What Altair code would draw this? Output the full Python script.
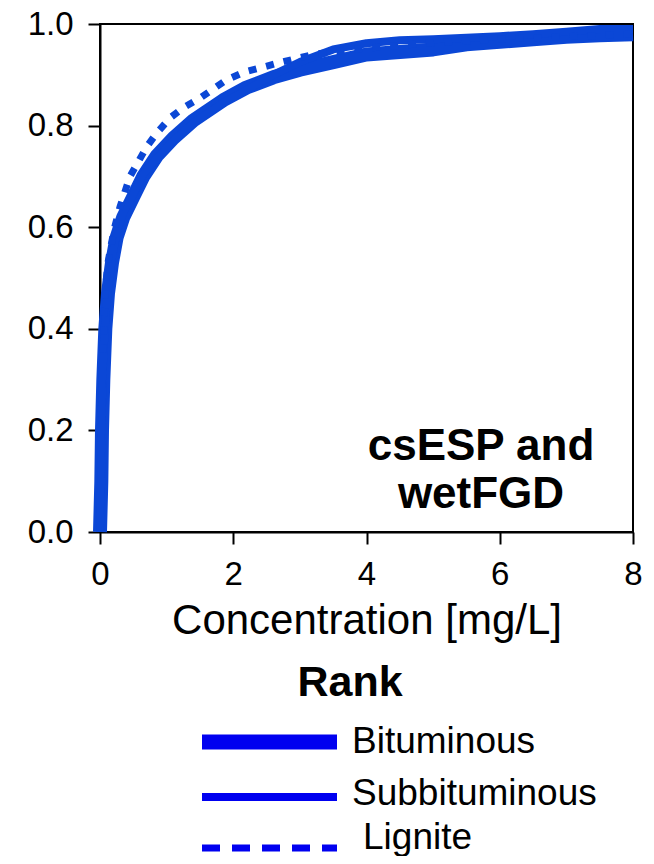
import altair as alt
import pandas as pd

# ---- data ----
series_names = ["Bituminous", "Subbituminous", "Lignite"]

bit_x = [0.0, 0.02, 0.03, 0.05, 0.08, 0.12, 0.18, 0.25, 0.35, 0.5, 0.65, 0.85, 1.1, 1.4, 1.85, 2.2, 2.6, 3.0, 3.5, 4.0, 4.5, 5.0, 5.5, 6.0, 6.5, 7.0, 7.5, 8.0]
bit_y = [0.0, 0.1, 0.2, 0.3, 0.4, 0.47, 0.53, 0.58, 0.62, 0.66, 0.7, 0.74, 0.775, 0.81, 0.85, 0.875, 0.895, 0.91, 0.925, 0.94, 0.945, 0.95, 0.96, 0.965, 0.97, 0.975, 0.978, 0.98]

sub_x = [0.0, 0.02, 0.03, 0.05, 0.08, 0.12, 0.18, 0.25, 0.35, 0.5, 0.65, 0.85, 1.1, 1.4, 1.85, 2.2, 2.6, 3.0, 3.5, 4.0, 4.5, 5.0, 5.5, 6.0, 6.5, 7.0, 7.5, 8.0]
sub_y = [0.0, 0.12, 0.25, 0.35, 0.42, 0.48, 0.54, 0.59, 0.63, 0.665, 0.705, 0.735, 0.77, 0.805, 0.845, 0.87, 0.9, 0.925, 0.95, 0.962, 0.968, 0.97, 0.973, 0.976, 0.98, 0.985, 0.99, 0.99]

lig_x = [0.0, 0.03, 0.06, 0.09, 0.12, 0.16, 0.22, 0.3, 0.45, 0.7, 0.85, 1.05, 1.25, 1.5, 1.9, 2.18, 2.73, 3.2, 3.8, 4.5, 5.2, 6.0, 7.0, 8.0]
lig_y = [0.0, 0.28, 0.42, 0.49, 0.53, 0.56, 0.6, 0.64, 0.7, 0.758, 0.785, 0.815, 0.835, 0.854, 0.89, 0.906, 0.925, 0.94, 0.95, 0.958, 0.965, 0.97, 0.975, 0.98]

x_ticks = [0, 2, 4, 6, 8]
y_ticks = [0.0, 0.2, 0.4, 0.6, 0.8, 1.0]

annotation = "csESP and\nwetFGD"
x_title = "Concentration [mg/L]"
legend_title = "Rank"

FONT = "Liberation Sans"
LINE_BLUE = "#0b47d6"
LEG_BLUE = "#0000f0"

W, H = 533, 508

df_b = pd.DataFrame({"x": bit_x, "y": bit_y, "s": series_names[0]})
df_s = pd.DataFrame({"x": sub_x, "y": sub_y, "s": series_names[1]})
df_l = pd.DataFrame({"x": lig_x, "y": lig_y, "s": series_names[2]})

xs = alt.Scale(domain=[0, 8], nice=False, zero=False)
ys = alt.Scale(domain=[0, 1], nice=False, zero=False)

x_enc = alt.X("x:Q", scale=xs, axis=alt.Axis(
    values=x_ticks, title=x_title, format="d", grid=False, labelFlush=False,
    titleY=101, titleBaseline="alphabetic", titleFontSize=42, titleFontWeight="normal",
))
y_enc = alt.Y("y:Q", scale=ys, axis=alt.Axis(values=y_ticks, format=".1f", title=None,
                                             grid=False, labelFlush=False))

l_b = alt.Chart(df_b).mark_line(color=LINE_BLUE, strokeWidth=14, strokeJoin="round").encode(
    x=x_enc, y=y_enc, order="x:Q")
l_s = alt.Chart(df_s).mark_line(color=LINE_BLUE, strokeWidth=8, strokeJoin="round").encode(
    x="x:Q", y="y:Q", order="x:Q")
l_l = alt.Chart(df_l).mark_line(color=LINE_BLUE, strokeWidth=7, strokeDash=[8, 10], strokeCap="butt").encode(
    x="x:Q", y="y:Q", order="x:Q")

ann = alt.Chart(pd.DataFrame({"t": [annotation]})).mark_text(
    font=FONT, fontSize=44, fontWeight="bold", align="center", baseline="alphabetic",
    lineBreak="\n", lineHeight=48, color="black",
).encode(x=alt.value(381), y=alt.value(436), text="t:N")

# legend (drawn below the plot)
leg_title = alt.Chart(pd.DataFrame({"t": [legend_title]})).mark_text(
    font=FONT, fontSize=43, fontWeight="bold", align="center", baseline="alphabetic", color="black"
).encode(x=alt.value(250), y=alt.value(672), text="t:N")

leg_items = []
rule_y = [718, 773, 824]
text_y = [729, 781, 825]
text_x = [252, 252, 263]
widths = [15, 8, 7]
for i, nm in enumerate(series_names):
    d = pd.DataFrame({"name": [nm]})
    kw = dict(color=LEG_BLUE, strokeWidth=widths[i], strokeCap="butt")
    if i == 2:
        kw["strokeDash"] = [18, 12]
    leg_items.append(alt.Chart(d).mark_rule(**kw).encode(
        x=alt.value(102), x2=alt.value(237), y=alt.value(rule_y[i])))
    leg_items.append(alt.Chart(d).mark_text(
        font=FONT, fontSize=37, align="left", baseline="alphabetic", color="black"
    ).encode(x=alt.value(text_x[i]), y=alt.value(text_y[i]), text="name:N"))

chart = alt.layer(l_b, l_s, l_l, ann, leg_title, *leg_items).properties(
    width=W, height=H,
    autosize=alt.AutoSizeParams(type="none"),
    padding={"left": 92, "top": 16, "right": 13, "bottom": 324},
).configure_view(
    stroke="black", strokeWidth=2
).configure_axis(
    labelFont=FONT, titleFont=FONT, labelFontSize=33, labelColor="black",
    titleColor="black", domainColor="black", domainWidth=2, tickColor="black",
    tickWidth=2, tickSize=12, labelPadding=14,
).configure_axisY(labelPadding=15)

chart.save("out.html", embed_options={"renderer": "svg", "actions": False})
